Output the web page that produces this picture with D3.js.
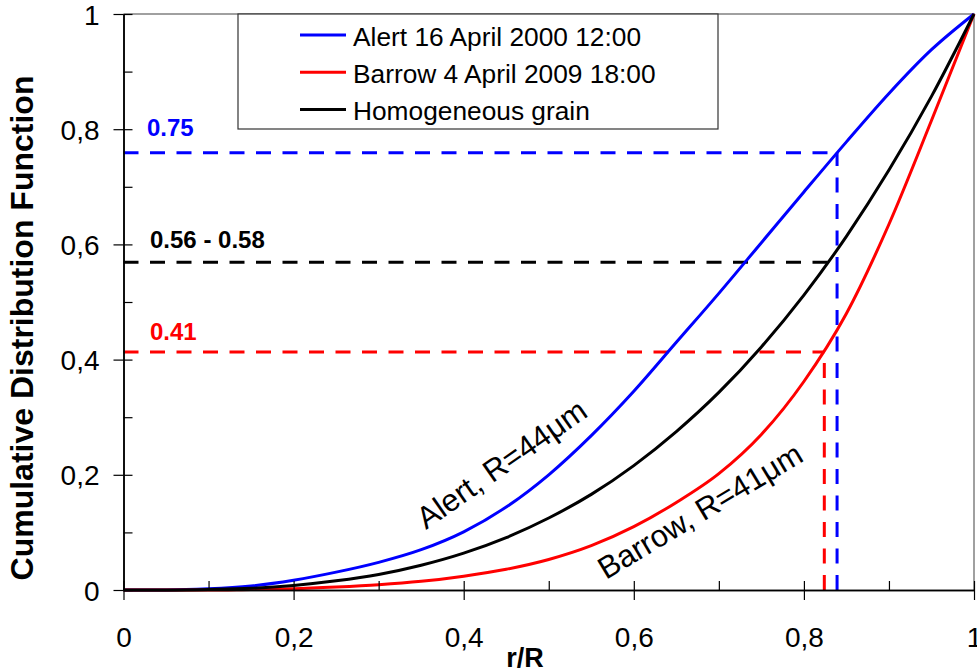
<!DOCTYPE html>
<html>
<head>
<meta charset="utf-8">
<script src="https://cdn.jsdelivr.net/npm/d3@7"></script>
<style>
  html, body { margin: 0; padding: 0; background: #fff; }
  svg { display: block; font-family: "Liberation Sans", Arial, sans-serif; }
</style>
</head>
<body>
<svg id="chart" width="977" height="668"></svg>
<script>
// ---- data ----
const rOverR = [0, 0.05, 0.1, 0.15, 0.2, 0.25, 0.3, 0.35, 0.4, 0.45, 0.5, 0.55, 0.6, 0.65, 0.7, 0.75, 0.8, 0.85, 0.9, 0.95, 1];
const alertCdf = [0, 0, 0.002, 0.007, 0.017, 0.031, 0.048, 0.070, 0.101, 0.144, 0.200, 0.268, 0.345, 0.430, 0.515, 0.603, 0.691, 0.778, 0.862, 0.938, 1];
const barrowCdf = [0, 0, 0, 0.001, 0.002, 0.005, 0.009, 0.015, 0.024, 0.036, 0.053, 0.077, 0.110, 0.152, 0.202, 0.270, 0.362, 0.480, 0.635, 0.815, 1];
const homogCdf = [0, 0.0001, 0.001, 0.003, 0.008, 0.016, 0.027, 0.043, 0.064, 0.091, 0.125, 0.166, 0.216, 0.275, 0.343, 0.422, 0.512, 0.614, 0.729, 0.857, 1];

const seriesNames = ["Alert 16 April 2000 12:00", "Barrow 4 April 2009 18:00", "Homogeneous grain"];
const seriesColors = ["#0000ff", "#ff0000", "#000000"];

const majorTicks = [0, 0.2, 0.4, 0.6, 0.8, 1];
const minorTicks = [0.1, 0.3, 0.5, 0.7, 0.9];
const tickLabels = ["0", "0,2", "0,4", "0,6", "0,8", "1"];

// reference (dashed) lines
const alertRef = {x: 0.839, y: 0.759, label: "0.75"};
const homogRef = {x: 0.83, y: 0.569, label: "0.56 - 0.58"};
const barrowRef = {x: 0.824, y: 0.413, label: "0.41"};

// ---- drawing ----
const svg = d3.select("#chart");
const x = d3.scaleLinear().domain([0, 1]).range([123.5, 974]);
const y = d3.scaleLinear().domain([0, 1]).range([590, 14]);

// plot frame (top/right gray)
svg.append("path")
  .attr("d", `M${x(0)},${y(1)}H${x(1)}V${y(0)}`)
  .attr("fill", "none").attr("stroke", "#a0a0a0").attr("stroke-width", 2);

// dashed reference lines
const dash = "15,11.5";
function refLine(ref, color, vertical) {
  svg.append("line")
    .attr("x1", x(0)).attr("x2", x(ref.x)).attr("y1", y(ref.y)).attr("y2", y(ref.y))
    .attr("stroke", color).attr("stroke-width", 3).attr("stroke-dasharray", dash);
  if (vertical) {
    svg.append("line")
      .attr("x1", x(ref.x)).attr("x2", x(ref.x)).attr("y1", y(0)).attr("y2", y(ref.y))
      .attr("stroke", color).attr("stroke-width", 3).attr("stroke-dasharray", dash);
  }
}
refLine(alertRef, "#0000ff", true);
refLine(homogRef, "#000000", false);
refLine(barrowRef, "#ff0000", true);

// reference labels
const refLabel = (t, color, xx, yy) => svg.append("text")
  .attr("x", xx).attr("y", yy).attr("fill", color)
  .attr("font-weight", "bold").attr("font-size", 24).text(t);
refLabel(alertRef.label, "#0000ff", 147, 136);
refLabel(homogRef.label, "#000000", 150, 248);
refLabel(barrowRef.label, "#ff0000", 150, 340);

// curves
const allSeries = [alertCdf, barrowCdf, homogCdf];
const line = d3.line().x(d => x(d[0])).y(d => y(d[1])).curve(d3.curveMonotoneX);
allSeries.forEach((vals, i) => {
  svg.append("path")
    .datum(rOverR.map((r, k) => [r, vals[k]]))
    .attr("d", line)
    .attr("fill", "none")
    .attr("stroke", seriesColors[i])
    .attr("stroke-width", 3)
    .attr("stroke-linejoin", "round");
});

// axes
const fmt = d => tickLabels[majorTicks.indexOf(d)];
const yAxis = svg.append("g").attr("transform", `translate(${x(0)},0)`)
  .call(d3.axisLeft(y).tickValues(majorTicks).tickSize(10).tickSizeOuter(0).tickPadding(14).tickFormat(fmt));
const yAxisIn = svg.append("g").attr("transform", `translate(${x(0)},0)`)
  .call(d3.axisRight(y).tickValues(majorTicks.concat(minorTicks)).tickSize(9).tickSizeOuter(0).tickFormat(""));
const xAxis = svg.append("g").attr("transform", `translate(0,${y(0)})`)
  .call(d3.axisBottom(x).tickValues(majorTicks).tickSize(10).tickSizeOuter(0).tickPadding(27).tickFormat(fmt));
const xAxisIn = svg.append("g").attr("transform", `translate(0,${y(0)})`)
  .call(d3.axisTop(x).tickValues(majorTicks.concat(minorTicks)).tickSize(9).tickSizeOuter(0).tickFormat(""));

[yAxis, yAxisIn, xAxis, xAxisIn].forEach(g => {
  g.selectAll(".domain").attr("stroke", "#000").attr("stroke-width", 1.5);
  g.selectAll(".tick line").attr("stroke", "#000").attr("stroke-width", 1.2);
  g.selectAll("text").attr("font-family", "Liberation Sans, Arial, sans-serif")
    .attr("font-size", 28).attr("fill", "#000");
});
yAxis.selectAll("text").attr("dy", "0.36em");

// axis titles
svg.append("text")
  .attr("transform", "translate(33,328) rotate(-90)")
  .attr("text-anchor", "middle").attr("font-weight", "bold").attr("font-size", 32)
  .text("Cumulative Distribution Function");
svg.append("text")
  .attr("x", 525).attr("y", 667).attr("text-anchor", "middle")
  .attr("font-weight", "bold").attr("font-size", 27).text("r/R");

// curve labels
svg.append("text")
  .attr("transform", "translate(426,530) rotate(-35)")
  .attr("font-size", 31).text("Alert, R=44μm");
svg.append("text")
  .attr("transform", "translate(606,580) rotate(-31)")
  .attr("font-size", 31).text("Barrow, R=41μm");

// legend
const lg = svg.append("g");
lg.append("rect").attr("x", 238).attr("y", 14).attr("width", 480).attr("height", 115)
  .attr("fill", "#fff").attr("stroke", "#333").attr("stroke-width", 1.2);
seriesNames.forEach((name, i) => {
  const ly = 35 + i * 37.3;
  lg.append("line").attr("x1", 300).attr("x2", 346).attr("y1", ly).attr("y2", ly)
    .attr("stroke", seriesColors[i]).attr("stroke-width", 3);
  lg.append("text").attr("x", 353).attr("y", ly + 10.5).attr("font-size", 26.3).text(name);
});
</script>
</body>
</html>
